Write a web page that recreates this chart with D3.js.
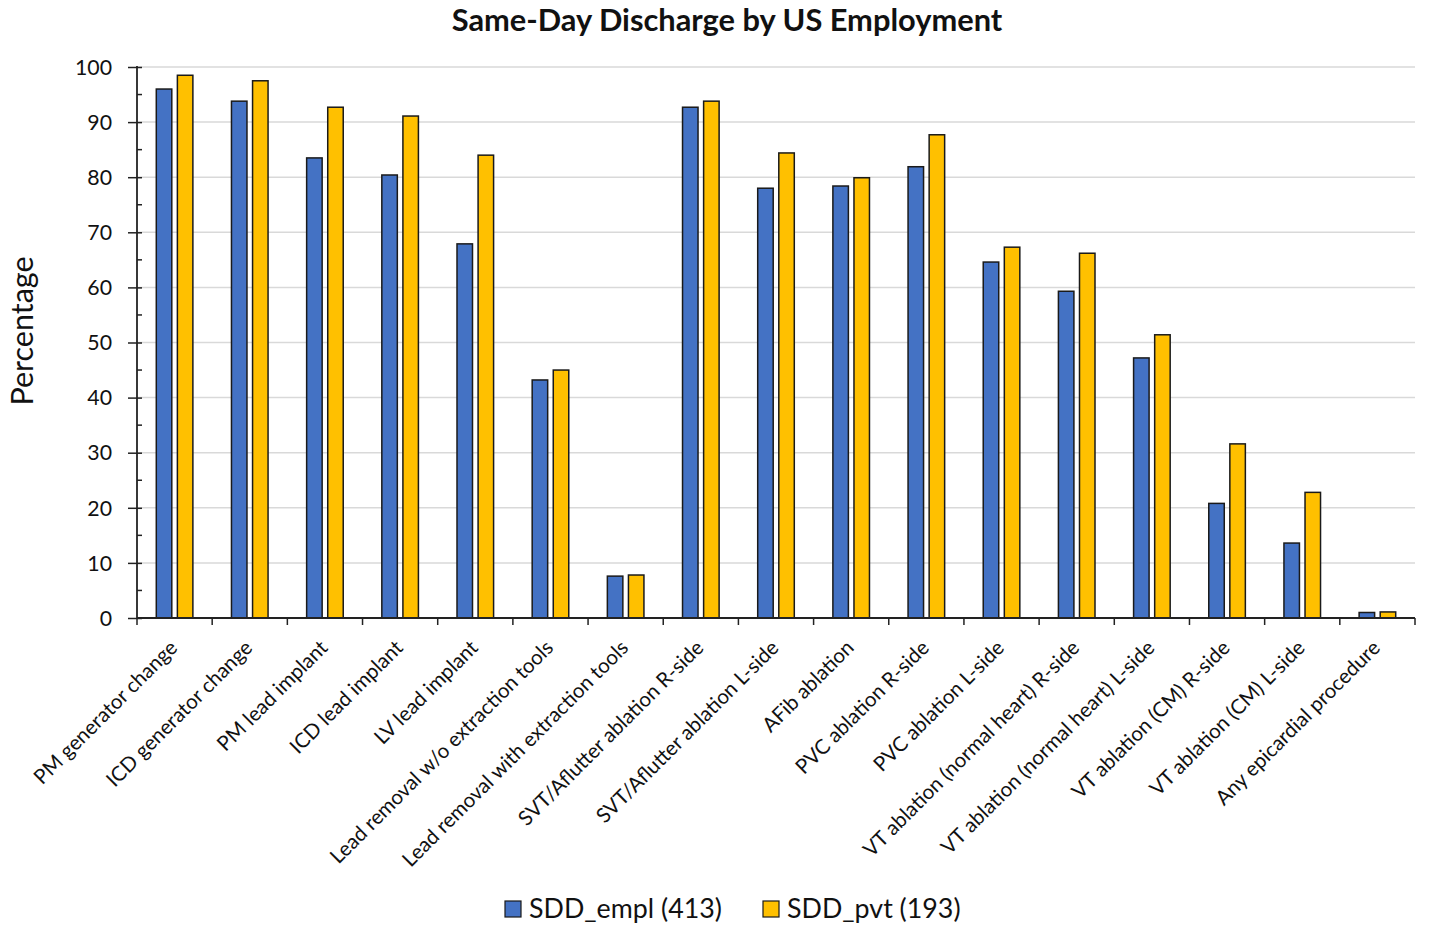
<!DOCTYPE html>
<html><head><meta charset="utf-8">
<script src="https://cdn.jsdelivr.net/npm/d3@7"></script>
<style>body{margin:0;background:#fff}svg{display:block}text{font-family:Lato,"Open Sans",sans-serif}</style>
</head><body>
<svg id="c" width="1430" height="928"></svg>
<script>
const categories = ["PM generator change","ICD generator change","PM lead implant","ICD lead implant","LV lead implant","Lead removal w/o extraction tools","Lead removal with extraction tools","SVT/Aflutter ablation R-side","SVT/Aflutter ablation L-side","AFib ablation","PVC ablation R-side","PVC ablation L-side","VT ablation (normal heart) R-side","VT ablation (normal heart) L-side","VT ablation (CM) R-side","VT ablation (CM) L-side","Any epicardial procedure"];
const seriesNames = ["SDD_empl (413)","SDD_pvt (193)"];
const empl = [96.0,93.8,83.5,80.4,67.9,43.2,7.6,92.7,78.0,78.4,81.9,64.6,59.3,47.2,20.8,13.6,1.0];
const pvt  = [98.5,97.5,92.7,91.1,84.0,45.0,7.8,93.8,84.4,79.9,87.7,67.3,66.2,51.4,31.6,22.8,1.1];
const yTicks = [0,10,20,30,40,50,60,70,80,90,100];
const colors = ["#4472C4","#FFC000"];

const svg = d3.select("#c");
const L=137, R=1415, T=67, B=618;
const x = d3.scaleBand().domain(categories).range([L,R]).paddingInner(0).paddingOuter(0);
const xs = d3.scaleBand().domain([0,1]).range([0,x.bandwidth()]).paddingInner(0.265).paddingOuter(0.915);
const y = d3.scaleLinear().domain([0,100]).range([B,T]);

// grid
svg.append("g").selectAll("line").data(yTicks.slice(1)).join("line")
  .attr("x1",L).attr("x2",R).attr("y1",d=>y(d)).attr("y2",d=>y(d))
  .attr("stroke","#d9d9d9").attr("stroke-width",1.5);

// bars
const data = [empl,pvt];
const g = svg.append("g");
categories.forEach((c,i)=>{
  data.forEach((arr,s)=>{
    g.append("rect").attr("x",x(c)+xs(s)).attr("width",xs.bandwidth())
      .attr("y",y(arr[i])).attr("height",y(0)-y(arr[i]))
      .attr("fill",colors[s]).attr("stroke","#1a1a1a").attr("stroke-width",1.5);
  });
});

// y axis
const ya = svg.append("g").attr("transform",`translate(${L},0)`)
  .call(d3.axisLeft(y).tickValues(yTicks).tickSize(9).tickPadding(6));
ya.select(".domain").remove();
ya.selectAll(".tick line").attr("x2",5).attr("x1",-9).attr("stroke","#222").attr("stroke-width",1.5);
ya.selectAll("text").attr("font-size",21.3).attr("fill","#111").attr("font-family","Lato,'Open Sans',sans-serif").attr("x",-25).attr("dy","0.34em");
// minor ticks
svg.append("g").selectAll("line").data(d3.range(5,100,10)).join("line")
  .attr("x1",L).attr("x2",L+5).attr("y1",d=>y(d)).attr("y2",d=>y(d)).attr("stroke","#222").attr("stroke-width",1.5);
svg.append("line").attr("x1",L).attr("x2",L).attr("y1",T-1).attr("y2",B).attr("stroke","#222").attr("stroke-width",1.8);

// x axis
svg.append("line").attr("x1",L).attr("x2",R).attr("y1",B).attr("y2",B).attr("stroke","#222").attr("stroke-width",1.8);
const bounds = categories.map(c=>x(c)).concat([R]);
svg.append("g").selectAll("line").data(bounds).join("line")
  .attr("x1",d=>d).attr("x2",d=>d).attr("y1",B).attr("y2",B+7).attr("stroke","#222").attr("stroke-width",1.5);
svg.append("g").selectAll("text").data(categories).join("text")
  .attr("transform",c=>`translate(${x(c)+x.bandwidth()/2+4},${B+31}) rotate(-45)`)
  .attr("text-anchor","end").attr("font-size",20.5).attr("fill","#111").text(c=>c);

// title
svg.append("text").attr("x",727).attr("y",31).attr("text-anchor","middle")
  .attr("font-size",30.8).attr("font-weight","bold").attr("fill","#111").text("Same-Day Discharge by US Employment");
// y label
svg.append("text").attr("transform","translate(33,331) rotate(-90)").attr("text-anchor","middle")
  .attr("font-size",30.5).attr("fill","#111").text("Percentage");

// legend
const lg = svg.append("g");
const lx=[505,763];
seriesNames.forEach((n,i)=>{
  lg.append("rect").attr("x",lx[i]).attr("y",901).attr("width",16).attr("height",16)
    .attr("fill",colors[i]).attr("stroke","#1a1a1a").attr("stroke-width",1.2);
  lg.append("text").attr("x",lx[i]+24).attr("y",918).attr("font-size",26.8).attr("fill","#111").text(n);
});
</script>
</body></html>
